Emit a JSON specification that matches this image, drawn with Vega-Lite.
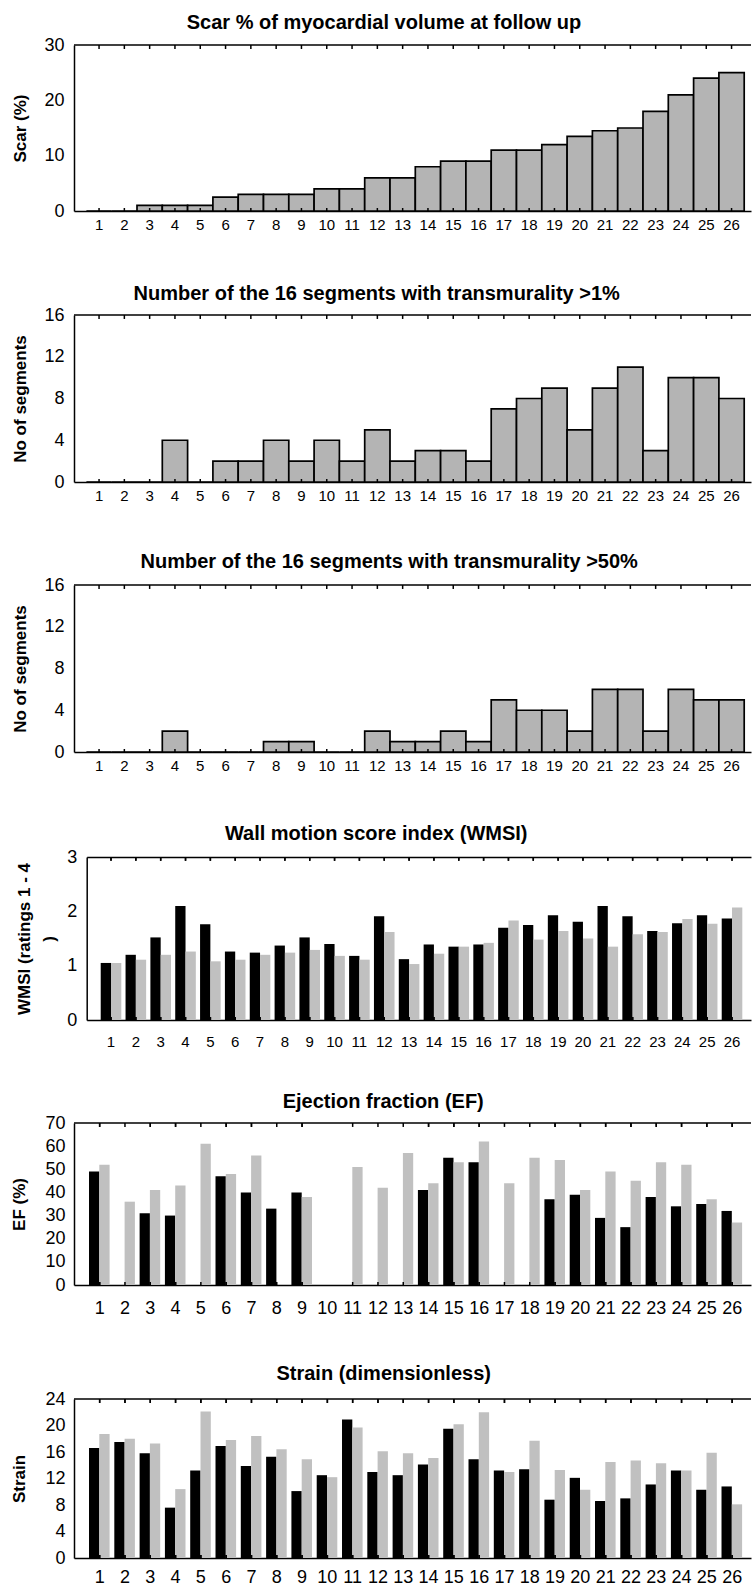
{
  "$schema": "https://vega.github.io/schema/vega-lite/v6.json",
  "padding": {"left": 10, "top": 12, "right": 0, "bottom": 0},
  "spacing": 42,
  "config": {
    "view": {"stroke": null},
    "font": "Liberation Sans",
    "axis": {"domainColor": "black", "domainWidth": 1.5, "tickColor": "black", "tickWidth": 1.5, "labelColor": "black", "titleColor": "black", "labelFont": "Liberation Sans", "titleFont": "Liberation Sans", "grid": false},
    "axisY": {"labelOverlap": false},
    "title": {"font": "Liberation Sans", "fontSize": 20, "fontWeight": "bold", "color": "black", "anchor": "middle", "frame": "group"}
  },
  "datasets": {
    "one": [{"k": 0}],
    "scar": [
      {"p": 1, "v": 0}, {"p": 2, "v": 0}, {"p": 3, "v": 1}, {"p": 4, "v": 1}, {"p": 5, "v": 1}, {"p": 6, "v": 2.5}, {"p": 7, "v": 3}, {"p": 8, "v": 3}, {"p": 9, "v": 3}, {"p": 10, "v": 4}, {"p": 11, "v": 4}, {"p": 12, "v": 6}, {"p": 13, "v": 6}, {"p": 14, "v": 8}, {"p": 15, "v": 9}, {"p": 16, "v": 9}, {"p": 17, "v": 11}, {"p": 18, "v": 11}, {"p": 19, "v": 12}, {"p": 20, "v": 13.5}, {"p": 21, "v": 14.5}, {"p": 22, "v": 15}, {"p": 23, "v": 18}, {"p": 24, "v": 21}, {"p": 25, "v": 24}, {"p": 26, "v": 25}
    ],
    "t1": [
      {"p": 1, "v": 0}, {"p": 2, "v": 0}, {"p": 3, "v": 0}, {"p": 4, "v": 4}, {"p": 5, "v": 0}, {"p": 6, "v": 2}, {"p": 7, "v": 2}, {"p": 8, "v": 4}, {"p": 9, "v": 2}, {"p": 10, "v": 4}, {"p": 11, "v": 2}, {"p": 12, "v": 5}, {"p": 13, "v": 2}, {"p": 14, "v": 3}, {"p": 15, "v": 3}, {"p": 16, "v": 2}, {"p": 17, "v": 7}, {"p": 18, "v": 8}, {"p": 19, "v": 9}, {"p": 20, "v": 5}, {"p": 21, "v": 9}, {"p": 22, "v": 11}, {"p": 23, "v": 3}, {"p": 24, "v": 10}, {"p": 25, "v": 10}, {"p": 26, "v": 8}
    ],
    "t50": [
      {"p": 1, "v": 0}, {"p": 2, "v": 0}, {"p": 3, "v": 0}, {"p": 4, "v": 2}, {"p": 5, "v": 0}, {"p": 6, "v": 0}, {"p": 7, "v": 0}, {"p": 8, "v": 1}, {"p": 9, "v": 1}, {"p": 10, "v": 0}, {"p": 11, "v": 0}, {"p": 12, "v": 2}, {"p": 13, "v": 1}, {"p": 14, "v": 1}, {"p": 15, "v": 2}, {"p": 16, "v": 1}, {"p": 17, "v": 5}, {"p": 18, "v": 4}, {"p": 19, "v": 4}, {"p": 20, "v": 2}, {"p": 21, "v": 6}, {"p": 22, "v": 6}, {"p": 23, "v": 2}, {"p": 24, "v": 6}, {"p": 25, "v": 5}, {"p": 26, "v": 5}
    ],
    "wmsi": [
      {"p": 1, "s": "a", "v": 1.05}, {"p": 1, "s": "b", "v": 1.05},
      {"p": 2, "s": "a", "v": 1.2}, {"p": 2, "s": "b", "v": 1.11},
      {"p": 3, "s": "a", "v": 1.52}, {"p": 3, "s": "b", "v": 1.2},
      {"p": 4, "s": "a", "v": 2.1}, {"p": 4, "s": "b", "v": 1.26},
      {"p": 5, "s": "a", "v": 1.76}, {"p": 5, "s": "b", "v": 1.08},
      {"p": 6, "s": "a", "v": 1.26}, {"p": 6, "s": "b", "v": 1.11},
      {"p": 7, "s": "a", "v": 1.24}, {"p": 7, "s": "b", "v": 1.2},
      {"p": 8, "s": "a", "v": 1.37}, {"p": 8, "s": "b", "v": 1.24},
      {"p": 9, "s": "a", "v": 1.52}, {"p": 9, "s": "b", "v": 1.29},
      {"p": 10, "s": "a", "v": 1.4}, {"p": 10, "s": "b", "v": 1.18},
      {"p": 11, "s": "a", "v": 1.18}, {"p": 11, "s": "b", "v": 1.11},
      {"p": 12, "s": "a", "v": 1.91}, {"p": 12, "s": "b", "v": 1.62},
      {"p": 13, "s": "a", "v": 1.12}, {"p": 13, "s": "b", "v": 1.03},
      {"p": 14, "s": "a", "v": 1.39}, {"p": 14, "s": "b", "v": 1.22},
      {"p": 15, "s": "a", "v": 1.35}, {"p": 15, "s": "b", "v": 1.35},
      {"p": 16, "s": "a", "v": 1.39}, {"p": 16, "s": "b", "v": 1.42},
      {"p": 17, "s": "a", "v": 1.7}, {"p": 17, "s": "b", "v": 1.83},
      {"p": 18, "s": "a", "v": 1.75}, {"p": 18, "s": "b", "v": 1.48},
      {"p": 19, "s": "a", "v": 1.93}, {"p": 19, "s": "b", "v": 1.64},
      {"p": 20, "s": "a", "v": 1.81}, {"p": 20, "s": "b", "v": 1.5},
      {"p": 21, "s": "a", "v": 2.1}, {"p": 21, "s": "b", "v": 1.35},
      {"p": 22, "s": "a", "v": 1.91}, {"p": 22, "s": "b", "v": 1.58},
      {"p": 23, "s": "a", "v": 1.64}, {"p": 23, "s": "b", "v": 1.62},
      {"p": 24, "s": "a", "v": 1.78}, {"p": 24, "s": "b", "v": 1.86},
      {"p": 25, "s": "a", "v": 1.93}, {"p": 25, "s": "b", "v": 1.77},
      {"p": 26, "s": "a", "v": 1.87}, {"p": 26, "s": "b", "v": 2.07}
    ],
    "ef": [
      {"p": 1, "s": "a", "v": 49}, {"p": 1, "s": "b", "v": 52},
      {"p": 2, "s": "b", "v": 36},
      {"p": 3, "s": "a", "v": 31}, {"p": 3, "s": "b", "v": 41},
      {"p": 4, "s": "a", "v": 30}, {"p": 4, "s": "b", "v": 43},
      {"p": 5, "s": "b", "v": 61},
      {"p": 6, "s": "a", "v": 47}, {"p": 6, "s": "b", "v": 48},
      {"p": 7, "s": "a", "v": 40}, {"p": 7, "s": "b", "v": 56},
      {"p": 8, "s": "a", "v": 33},
      {"p": 9, "s": "a", "v": 40}, {"p": 9, "s": "b", "v": 38},
      {"p": 11, "s": "b", "v": 51},
      {"p": 12, "s": "b", "v": 42},
      {"p": 13, "s": "b", "v": 57},
      {"p": 14, "s": "a", "v": 41}, {"p": 14, "s": "b", "v": 44},
      {"p": 15, "s": "a", "v": 55}, {"p": 15, "s": "b", "v": 53},
      {"p": 16, "s": "a", "v": 53}, {"p": 16, "s": "b", "v": 62},
      {"p": 17, "s": "b", "v": 44},
      {"p": 18, "s": "b", "v": 55},
      {"p": 19, "s": "a", "v": 37}, {"p": 19, "s": "b", "v": 54},
      {"p": 20, "s": "a", "v": 39}, {"p": 20, "s": "b", "v": 41},
      {"p": 21, "s": "a", "v": 29}, {"p": 21, "s": "b", "v": 49},
      {"p": 22, "s": "a", "v": 25}, {"p": 22, "s": "b", "v": 45},
      {"p": 23, "s": "a", "v": 38}, {"p": 23, "s": "b", "v": 53},
      {"p": 24, "s": "a", "v": 34}, {"p": 24, "s": "b", "v": 52},
      {"p": 25, "s": "a", "v": 35}, {"p": 25, "s": "b", "v": 37},
      {"p": 26, "s": "a", "v": 32}, {"p": 26, "s": "b", "v": 27}
    ],
    "strain": [
      {"p": 1, "s": "a", "v": 16.6}, {"p": 1, "s": "b", "v": 18.7},
      {"p": 2, "s": "a", "v": 17.5}, {"p": 2, "s": "b", "v": 18.0},
      {"p": 3, "s": "a", "v": 15.8}, {"p": 3, "s": "b", "v": 17.3},
      {"p": 4, "s": "a", "v": 7.6}, {"p": 4, "s": "b", "v": 10.4},
      {"p": 5, "s": "a", "v": 13.2}, {"p": 5, "s": "b", "v": 22.1},
      {"p": 6, "s": "a", "v": 16.9}, {"p": 6, "s": "b", "v": 17.8},
      {"p": 7, "s": "a", "v": 13.9}, {"p": 7, "s": "b", "v": 18.4},
      {"p": 8, "s": "a", "v": 15.3}, {"p": 8, "s": "b", "v": 16.4},
      {"p": 9, "s": "a", "v": 10.1}, {"p": 9, "s": "b", "v": 14.9},
      {"p": 10, "s": "a", "v": 12.5}, {"p": 10, "s": "b", "v": 12.2},
      {"p": 11, "s": "a", "v": 20.9}, {"p": 11, "s": "b", "v": 19.7},
      {"p": 12, "s": "a", "v": 13.0}, {"p": 12, "s": "b", "v": 16.1},
      {"p": 13, "s": "a", "v": 12.5}, {"p": 13, "s": "b", "v": 15.8},
      {"p": 14, "s": "a", "v": 14.1}, {"p": 14, "s": "b", "v": 15.1},
      {"p": 15, "s": "a", "v": 19.5}, {"p": 15, "s": "b", "v": 20.2},
      {"p": 16, "s": "a", "v": 14.9}, {"p": 16, "s": "b", "v": 22.0},
      {"p": 17, "s": "a", "v": 13.2}, {"p": 17, "s": "b", "v": 13.0},
      {"p": 18, "s": "a", "v": 13.4}, {"p": 18, "s": "b", "v": 17.7},
      {"p": 19, "s": "a", "v": 8.8}, {"p": 19, "s": "b", "v": 13.3},
      {"p": 20, "s": "a", "v": 12.1}, {"p": 20, "s": "b", "v": 10.3},
      {"p": 21, "s": "a", "v": 8.6}, {"p": 21, "s": "b", "v": 14.5},
      {"p": 22, "s": "a", "v": 9.0}, {"p": 22, "s": "b", "v": 14.7},
      {"p": 23, "s": "a", "v": 11.1}, {"p": 23, "s": "b", "v": 14.3},
      {"p": 24, "s": "a", "v": 13.2}, {"p": 24, "s": "b", "v": 13.2},
      {"p": 25, "s": "a", "v": 10.3}, {"p": 25, "s": "b", "v": 15.9},
      {"p": 26, "s": "a", "v": 10.8}, {"p": 26, "s": "b", "v": 8.1}
    ]
  },
  "vconcat": [
    {
      "width": 677, "height": 166,
      "title": {"text": "Scar % of myocardial volume at follow up", "offset": 3.2, "dx": -28.5},
      "encoding": {
        "x": {"field": "p", "type": "ordinal", "scale": {"domain": [1,2,3,4,5,6,7,8,9,10,11,12,13,14,15,16,17,18,19,20,21,22,23,24,25,26], "paddingInner": 0, "paddingOuter": 0.3794, "align": 0.646},
              "axis": {"orient": "bottom", "title": " ", "titleFontSize": 1, "titlePadding": 9, "labelAngle": 0, "ticks": false, "tickSize": 0, "labelPadding": 6, "labelFontSize": 15}}
      },
      "layer": [
        {
          "data": {"name": "scar"},
          "mark": {"type": "bar", "fill": "#b4b4b4", "stroke": "black", "strokeWidth": 1.7},
          "encoding": {
            "y": {"field": "v", "type": "quantitative", "scale": {"domain": [0, 30], "nice": false},
                  "axis": {"title": "Scar (%)", "titleFontSize": 17, "titleFontWeight": "bold", "titleX": -44.8, "values": [0, 10, 20, 30], "labelOverlap": false, "ticks": false, "tickSize": 0, "labelPadding": 10, "labelFontSize": 18}}
          }
        },
        {"data": {"name": "scar"}, "mark": {"type": "rule", "color": "black", "strokeWidth": 1.5}, "encoding": {"x": {"field": "p", "type": "ordinal"}, "y": {"datum": 30, "type": "quantitative", "axis": {"title": "Scar (%)", "titleFontSize": 17, "titleFontWeight": "bold", "titleX": -44.8, "values": [0, 10, 20, 30], "labelOverlap": false, "ticks": false, "tickSize": 0, "labelPadding": 10, "labelFontSize": 18}}, "y2": {"datum": 29.28}}},
        {"data": {"name": "scar"}, "mark": {"type": "rule", "color": "black", "strokeWidth": 1.5}, "encoding": {"x": {"field": "p", "type": "ordinal"}, "y": {"datum": 0, "type": "quantitative", "axis": {"title": "Scar (%)", "titleFontSize": 17, "titleFontWeight": "bold", "titleX": -44.8, "values": [0, 10, 20, 30], "labelOverlap": false, "ticks": false, "tickSize": 0, "labelPadding": 10, "labelFontSize": 18}}, "y2": {"datum": 0.54}}},
        {"data": {"name": "one"}, "mark": {"type": "rule", "color": "black", "strokeWidth": 1.5}, "encoding": {"x": null, "y": {"datum": 30, "type": "quantitative", "axis": {"title": "Scar (%)", "titleFontSize": 17, "titleFontWeight": "bold", "titleX": -44.8, "values": [0, 10, 20, 30], "labelOverlap": false, "ticks": false, "tickSize": 0, "labelPadding": 10, "labelFontSize": 18}}}}
      ]
    },
    {
      "width": 677, "height": 167,
      "title": {"text": "Number of the 16 segments with transmurality >1%", "offset": 1.6, "dx": -35.8},
      "encoding": {
        "x": {"field": "p", "type": "ordinal", "scale": {"domain": [1,2,3,4,5,6,7,8,9,10,11,12,13,14,15,16,17,18,19,20,21,22,23,24,25,26], "paddingInner": 0, "paddingOuter": 0.3794, "align": 0.646},
              "axis": {"orient": "bottom", "title": " ", "titleFontSize": 1, "titlePadding": 5.4, "labelAngle": 0, "ticks": false, "tickSize": 0, "labelPadding": 6, "labelFontSize": 15}}
      },
      "layer": [
        {
          "data": {"name": "t1"},
          "mark": {"type": "bar", "fill": "#b4b4b4", "stroke": "black", "strokeWidth": 1.7},
          "encoding": {
            "y": {"field": "v", "type": "quantitative", "scale": {"domain": [0, 16], "nice": false},
                  "axis": {"title": "No of segments", "titleFontSize": 17, "titleFontWeight": "bold", "titleX": -44.8, "values": [0, 4, 8, 12, 16], "labelOverlap": false, "ticks": false, "tickSize": 0, "labelPadding": 10, "labelFontSize": 18}}
          }
        },
        {"data": {"name": "t1"}, "mark": {"type": "rule", "color": "black", "strokeWidth": 1.5}, "encoding": {"x": {"field": "p", "type": "ordinal"}, "y": {"datum": 16, "type": "quantitative", "axis": {"title": "No of segments", "titleFontSize": 17, "titleFontWeight": "bold", "titleX": -44.8, "values": [0, 4, 8, 12, 16], "labelOverlap": false, "ticks": false, "tickSize": 0, "labelPadding": 10, "labelFontSize": 18}}, "y2": {"datum": 15.62}}},
        {"data": {"name": "t1"}, "mark": {"type": "rule", "color": "black", "strokeWidth": 1.5}, "encoding": {"x": {"field": "p", "type": "ordinal"}, "y": {"datum": 0, "type": "quantitative", "axis": {"title": "No of segments", "titleFontSize": 17, "titleFontWeight": "bold", "titleX": -44.8, "values": [0, 4, 8, 12, 16], "labelOverlap": false, "ticks": false, "tickSize": 0, "labelPadding": 10, "labelFontSize": 18}}, "y2": {"datum": 0.29}}},
        {"data": {"name": "one"}, "mark": {"type": "rule", "color": "black", "strokeWidth": 1.5}, "encoding": {"x": null, "y": {"datum": 16, "type": "quantitative", "axis": {"title": "No of segments", "titleFontSize": 17, "titleFontWeight": "bold", "titleX": -44.8, "values": [0, 4, 8, 12, 16], "labelOverlap": false, "ticks": false, "tickSize": 0, "labelPadding": 10, "labelFontSize": 18}}}}
      ]
    },
    {
      "width": 677, "height": 167,
      "title": {"text": "Number of the 16 segments with transmurality >50%", "offset": 4, "dx": -23.3},
      "encoding": {
        "x": {"field": "p", "type": "ordinal", "scale": {"domain": [1,2,3,4,5,6,7,8,9,10,11,12,13,14,15,16,17,18,19,20,21,22,23,24,25,26], "paddingInner": 0, "paddingOuter": 0.3794, "align": 0.646},
              "axis": {"orient": "bottom", "title": " ", "titleFontSize": 1, "titlePadding": 6.4, "labelAngle": 0, "ticks": false, "tickSize": 0, "labelPadding": 6, "labelFontSize": 15}}
      },
      "layer": [
        {
          "data": {"name": "t50"},
          "mark": {"type": "bar", "fill": "#b4b4b4", "stroke": "black", "strokeWidth": 1.7},
          "encoding": {
            "y": {"field": "v", "type": "quantitative", "scale": {"domain": [0, 16], "nice": false},
                  "axis": {"title": "No of segments", "titleFontSize": 17, "titleFontWeight": "bold", "titleX": -44.8, "values": [0, 4, 8, 12, 16], "labelOverlap": false, "ticks": false, "tickSize": 0, "labelPadding": 10, "labelFontSize": 18}}
          }
        },
        {"data": {"name": "t50"}, "mark": {"type": "rule", "color": "black", "strokeWidth": 1.5}, "encoding": {"x": {"field": "p", "type": "ordinal"}, "y": {"datum": 16, "type": "quantitative", "axis": {"title": "No of segments", "titleFontSize": 17, "titleFontWeight": "bold", "titleX": -44.8, "values": [0, 4, 8, 12, 16], "labelOverlap": false, "ticks": false, "tickSize": 0, "labelPadding": 10, "labelFontSize": 18}}, "y2": {"datum": 15.62}}},
        {"data": {"name": "t50"}, "mark": {"type": "rule", "color": "black", "strokeWidth": 1.5}, "encoding": {"x": {"field": "p", "type": "ordinal"}, "y": {"datum": 0, "type": "quantitative", "axis": {"title": "No of segments", "titleFontSize": 17, "titleFontWeight": "bold", "titleX": -44.8, "values": [0, 4, 8, 12, 16], "labelOverlap": false, "ticks": false, "tickSize": 0, "labelPadding": 10, "labelFontSize": 18}}, "y2": {"datum": 0.29}}},
        {"data": {"name": "one"}, "mark": {"type": "rule", "color": "black", "strokeWidth": 1.5}, "encoding": {"x": null, "y": {"datum": 16, "type": "quantitative", "axis": {"title": "No of segments", "titleFontSize": 17, "titleFontWeight": "bold", "titleX": -44.8, "values": [0, 4, 8, 12, 16], "labelOverlap": false, "ticks": false, "tickSize": 0, "labelPadding": 10, "labelFontSize": 18}}}}
      ]
    },
    {
      "width": 677, "height": 163,
      "title": {"text": "Wall motion score index (WMSI)", "offset": 4.3, "dx": -36.3},
      "encoding": {
        "x": {"field": "p", "type": "ordinal", "scale": {"domain": [1,2,3,4,5,6,7,8,9,10,11,12,13,14,15,16,17,18,19,20,21,22,23,24,25,26], "range": [12.7, 677], "paddingInner": 0.171, "paddingOuter": 0.457, "align": 0.617},
              "axis": {"orient": "bottom", "title": null, "labelAngle": 0, "ticks": false, "tickSize": 0, "labelPadding": 14, "labelFontSize": 15}}
      },
      "layer": [
        {
          "data": {"name": "wmsi"},
          "mark": {"type": "bar"},
          "encoding": {
            "xOffset": {"field": "s", "type": "nominal", "scale": {"domain": ["a", "b"], "paddingInner": 0, "paddingOuter": 0}},
            "color": {"field": "s", "type": "nominal", "scale": {"domain": ["a", "b"], "range": ["#000000", "#c0c0c0"]}, "legend": null},
            "y": {"field": "v", "type": "quantitative", "scale": {"domain": [0, 3], "nice": false},
                  "axis": {"title": ["WMSI (ratings 1 - 4", ")"], "titleLineHeight": 25, "titleFontSize": 17, "titleFontWeight": "bold", "titleX": -53.1, "offset": -12.7, "values": [0, 1, 2, 3], "format": "d", "labelOverlap": false, "ticks": false, "tickSize": 0, "labelPadding": 10, "labelFontSize": 18,
                           "grid": true, "gridColor": "black", "gridWidth": 1.5, "gridOpacity": {"condition": {"test": "datum.value === 3", "value": 1}, "value": 0}}}
          }
        },
        {"data": {"name": "wmsi"}, "mark": {"type": "rule", "color": "black", "strokeWidth": 1.5}, "encoding": {"x": {"field": "p", "type": "ordinal"}, "y": {"datum": 3, "type": "quantitative", "axis": {"title": ["WMSI (ratings 1 - 4", ")"], "titleLineHeight": 25, "titleFontSize": 17, "titleFontWeight": "bold", "titleX": -53.1, "offset": -12.7, "values": [0, 1, 2, 3], "format": "d", "labelOverlap": false, "ticks": false, "tickSize": 0, "labelPadding": 10, "labelFontSize": 18, "grid": true, "gridColor": "black", "gridWidth": 1.5, "gridOpacity": {"condition": {"test": "datum.value === 3", "value": 1}, "value": 0}}}, "y2": {"datum": 2.93}}},
        {"data": {"name": "wmsi"}, "mark": {"type": "rule", "color": "black", "strokeWidth": 1.5}, "encoding": {"x": {"field": "p", "type": "ordinal"}, "y": {"datum": 0, "type": "quantitative", "axis": {"title": ["WMSI (ratings 1 - 4", ")"], "titleLineHeight": 25, "titleFontSize": 17, "titleFontWeight": "bold", "titleX": -53.1, "offset": -12.7, "values": [0, 1, 2, 3], "format": "d", "labelOverlap": false, "ticks": false, "tickSize": 0, "labelPadding": 10, "labelFontSize": 18, "grid": true, "gridColor": "black", "gridWidth": 1.5, "gridOpacity": {"condition": {"test": "datum.value === 3", "value": 1}, "value": 0}}}, "y2": {"datum": 0.055}}}
      ]
    },
    {
      "width": 677, "height": 162,
      "title": {"text": "Ejection fraction (EF)", "offset": 2.5, "dx": -29.3},
      "encoding": {
        "x": {"field": "p", "type": "ordinal", "scale": {"domain": [1,2,3,4,5,6,7,8,9,10,11,12,13,14,15,16,17,18,19,20,21,22,23,24,25,26], "paddingInner": 0.158, "paddingOuter": 0.4585, "align": 0.647},
              "axis": {"orient": "bottom", "title": " ", "titleFontSize": 1, "titlePadding": 3.5, "labelAngle": 0, "ticks": false, "tickSize": 0, "labelPadding": 14, "labelFontSize": 18}}
      },
      "layer": [
        {
          "data": {"name": "ef"},
          "mark": {"type": "bar"},
          "encoding": {
            "xOffset": {"field": "s", "type": "nominal", "scale": {"domain": ["a", "b"], "paddingInner": 0, "paddingOuter": 0}},
            "color": {"field": "s", "type": "nominal", "scale": {"domain": ["a", "b"], "range": ["#000000", "#c0c0c0"]}, "legend": null},
            "y": {"field": "v", "type": "quantitative", "scale": {"domain": [0, 70], "nice": false},
                  "axis": {"title": "EF (%)", "titleFontSize": 17, "titleFontWeight": "bold", "titleX": -45.3, "values": [0, 10, 20, 30, 40, 50, 60, 70], "labelOverlap": false, "ticks": false, "tickSize": 0, "labelPadding": 9, "labelFontSize": 18}}
          }
        },
        {"data": {"name": "ef"}, "mark": {"type": "rule", "color": "black", "strokeWidth": 1.5}, "encoding": {"x": {"field": "p", "type": "ordinal"}, "y": {"datum": 70, "type": "quantitative", "axis": {"title": "EF (%)", "titleFontSize": 17, "titleFontWeight": "bold", "titleX": -45.3, "values": [0, 10, 20, 30, 40, 50, 60, 70], "labelOverlap": false, "ticks": false, "tickSize": 0, "labelPadding": 9, "labelFontSize": 18}}, "y2": {"datum": 68.3}}},
        {"data": {"name": "ef"}, "mark": {"type": "rule", "color": "black", "strokeWidth": 1.5}, "encoding": {"x": {"field": "p", "type": "ordinal"}, "y": {"datum": 0, "type": "quantitative", "axis": {"title": "EF (%)", "titleFontSize": 17, "titleFontWeight": "bold", "titleX": -45.3, "values": [0, 10, 20, 30, 40, 50, 60, 70], "labelOverlap": false, "ticks": false, "tickSize": 0, "labelPadding": 9, "labelFontSize": 18}}, "y2": {"datum": 1.3}}},
        {"data": {"name": "one"}, "mark": {"type": "rule", "color": "black", "strokeWidth": 1.5}, "encoding": {"x": null, "y": {"datum": 70, "type": "quantitative", "axis": {"title": "EF (%)", "titleFontSize": 17, "titleFontWeight": "bold", "titleX": -45.3, "values": [0, 10, 20, 30, 40, 50, 60, 70], "labelOverlap": false, "ticks": false, "tickSize": 0, "labelPadding": 9, "labelFontSize": 18}}}}
      ]
    },
    {
      "width": 677, "height": 159,
      "title": {"text": "Strain (dimensionless)", "offset": 5.7, "dx": -28.8},
      "encoding": {
        "x": {"field": "p", "type": "ordinal", "scale": {"domain": [1,2,3,4,5,6,7,8,9,10,11,12,13,14,15,16,17,18,19,20,21,22,23,24,25,26], "paddingInner": 0.158, "paddingOuter": 0.4585, "align": 0.647},
              "axis": {"orient": "bottom", "title": null, "labelAngle": 0, "ticks": false, "tickSize": 0, "labelPadding": 10, "labelFontSize": 18}}
      },
      "layer": [
        {
          "data": {"name": "strain"},
          "mark": {"type": "bar"},
          "encoding": {
            "xOffset": {"field": "s", "type": "nominal", "scale": {"domain": ["a", "b"], "paddingInner": 0, "paddingOuter": 0}},
            "color": {"field": "s", "type": "nominal", "scale": {"domain": ["a", "b"], "range": ["#000000", "#c0c0c0"]}, "legend": null},
            "y": {"field": "v", "type": "quantitative", "scale": {"domain": [0, 24], "nice": false},
                  "axis": {"title": "Strain", "titleFontSize": 17, "titleFontWeight": "bold", "titleX": -45.3, "values": [0, 4, 8, 12, 16, 20, 24], "labelOverlap": false, "ticks": false, "tickSize": 0, "labelPadding": 9, "labelFontSize": 18}}
          }
        },
        {"data": {"name": "strain"}, "mark": {"type": "rule", "color": "black", "strokeWidth": 1.5}, "encoding": {"x": {"field": "p", "type": "ordinal"}, "y": {"datum": 24, "type": "quantitative", "axis": {"title": "Strain", "titleFontSize": 17, "titleFontWeight": "bold", "titleX": -45.3, "values": [0, 4, 8, 12, 16, 20, 24], "labelOverlap": false, "ticks": false, "tickSize": 0, "labelPadding": 9, "labelFontSize": 18}}, "y2": {"datum": 23.4}}},
        {"data": {"name": "strain"}, "mark": {"type": "rule", "color": "black", "strokeWidth": 1.5}, "encoding": {"x": {"field": "p", "type": "ordinal"}, "y": {"datum": 0, "type": "quantitative", "axis": {"title": "Strain", "titleFontSize": 17, "titleFontWeight": "bold", "titleX": -45.3, "values": [0, 4, 8, 12, 16, 20, 24], "labelOverlap": false, "ticks": false, "tickSize": 0, "labelPadding": 9, "labelFontSize": 18}}, "y2": {"datum": 0.45}}},
        {"data": {"name": "one"}, "mark": {"type": "rule", "color": "black", "strokeWidth": 1.5}, "encoding": {"x": null, "y": {"datum": 24, "type": "quantitative", "axis": {"title": "Strain", "titleFontSize": 17, "titleFontWeight": "bold", "titleX": -45.3, "values": [0, 4, 8, 12, 16, 20, 24], "labelOverlap": false, "ticks": false, "tickSize": 0, "labelPadding": 9, "labelFontSize": 18}}}}
      ]
    }
  ]
}
